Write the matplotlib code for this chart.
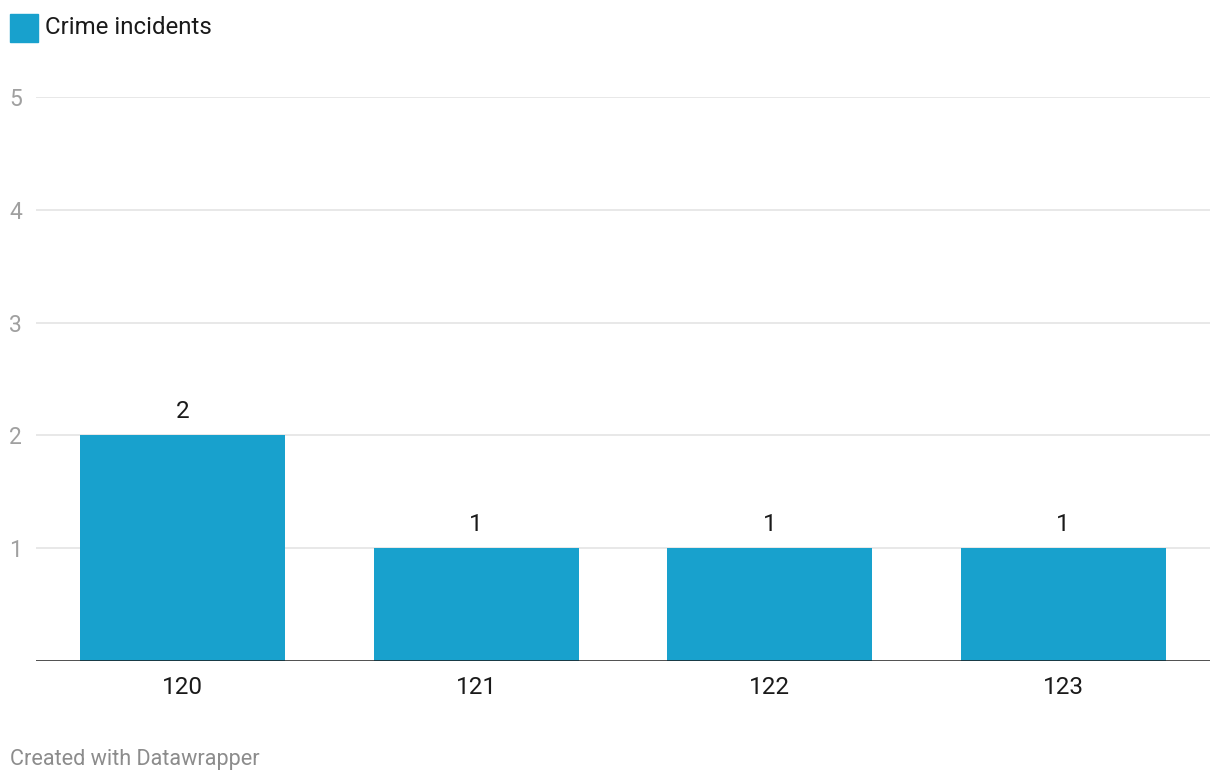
import numpy as np
import matplotlib.pyplot as plt

# data
categories = ['120', '121', '122', '123']
incidents = [2, 1, 1, 1]
yticks = [1, 2, 3, 4, 5]

plt.rcParams['font.family'] = ['Roboto', 'DejaVu Sans']

W, H = 1220, 784
fig = plt.figure(figsize=(W/100, H/100), dpi=100)
ax = fig.add_axes([36/W, (H-661)/H, (1210-36)/W, (661-97)/H])

bar_color = '#18a1cd'
x = np.arange(len(categories))
bars = ax.bar(x, incidents, width=0.698, color=bar_color, zorder=2)

ax.set_xlim(-0.5, len(categories) - 0.5)
ax.set_ylim(0, 5)

# gridlines
for t in yticks:
    ax.axhline(t, color='#e2e2e2', lw=1.1, zorder=1)
ax.axhline(0, color='#1a1a1a', lw=1.8, zorder=3)

for s in ax.spines.values():
    s.set_visible(False)

ax.set_yticks(yticks)
ax.set_yticklabels([str(t) for t in yticks])
ax.tick_params(axis='y', length=0, pad=10, labelsize=16.5, labelcolor='#a0a0a0')
ax.set_xticks(x)
ax.set_xticklabels(categories)
ax.tick_params(axis='x', length=0, pad=11, labelsize=17.5, labelcolor='#1a1a1a')

# value labels
for b, v in zip(bars, incidents):
    ax.annotate(str(v), (b.get_x() + b.get_width()/2, v), xytext=(0, 17),
                textcoords='offset points', ha='center', va='center',
                fontsize=17.5, color='#1a1a1a')

# legend
fig.patches.append(plt.Rectangle((10/W, 1 - 42/H), 28/W, 28/H,
                                 transform=fig.transFigure, color=bar_color))
fig.text(45/W, 1 - 27/H, 'Crime incidents', ha='left', va='center',
         fontsize=17.3, color='#1a1a1a')

# footer
fig.text(10/W, 1 - 760/H, 'Created with Datawrapper', ha='left', va='center',
         fontsize=15.6, color='#8c8c8c')

plt.savefig('out.png', dpi=100)
